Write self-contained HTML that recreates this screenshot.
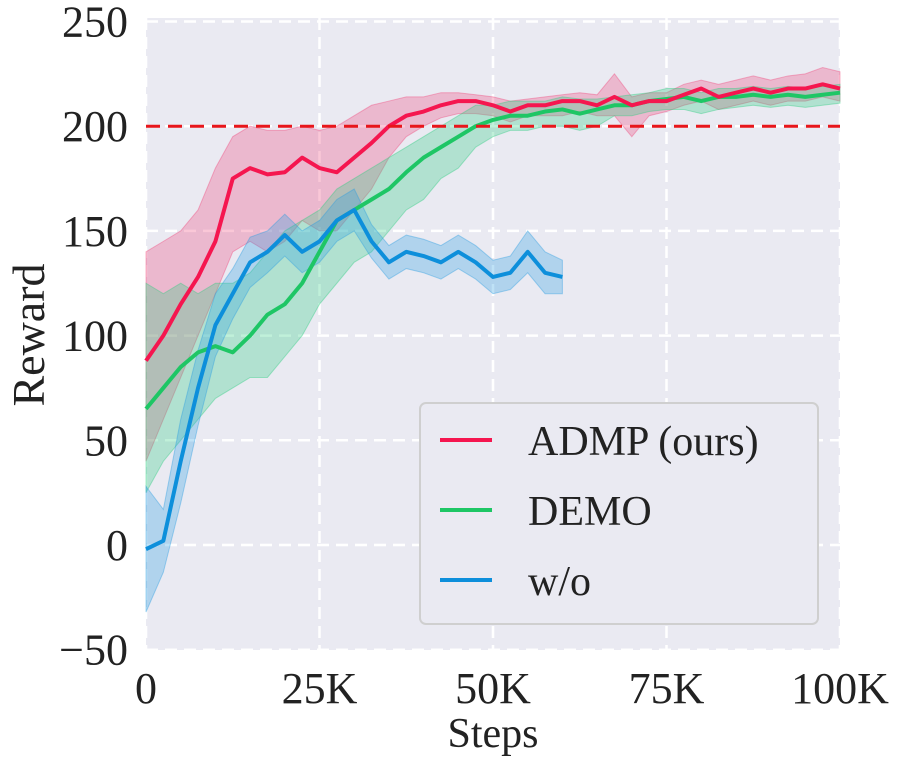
<!DOCTYPE html>
<html><head><meta charset="utf-8"><style>
body{margin:0;background:#fff;}
svg text{font-family:"Liberation Serif",serif;fill:#222;}
</style></head><body>
<svg width="901" height="762" id="chart">
<rect x="146" y="18" width="694" height="632" fill="#eaeaf2"/>
<g id="grid"></g><g id="series"></g><g id="ticks"></g>
<line id="target" stroke="#e8161b" stroke-width="3" stroke-dasharray="14,8"/>
<text x="493" y="747" font-size="42" text-anchor="middle">Steps</text>
<text transform="translate(44,335) rotate(-90)" font-size="46" text-anchor="middle">Reward</text>
<g>
<rect x="420" y="403" width="398" height="221" rx="6" fill="#eaeaf2" stroke="#cfcfcf" stroke-width="2"/>
<line x1="440" y1="440" x2="492" y2="440" stroke="#f5164f" stroke-width="4"/>
<text x="528" y="455" font-size="42">ADMP (ours)</text>
<line x1="440" y1="510" x2="492" y2="510" stroke="#1ec665" stroke-width="4"/>
<text x="528" y="525" font-size="42">DEMO</text>
<line x1="440" y1="580" x2="492" y2="580" stroke="#0d8fdb" stroke-width="4"/>
<text x="528" y="595" font-size="42">w/o</text>
</g>
</svg>
<script>
const xTicks=[0,25,50,75,100];
const xTickLabels=["0","25K","50K","75K","100K"];
const yTicks=[-50,0,50,100,150,200,250];
const targetValue=200;
const admpSteps=[0,2.5,5,7.5,10,12.5,15,17.5,20,22.5,25,27.5,30,32.5,35,37.5,40,42.5,45,47.5,50,52.5,55,57.5,60,62.5,65,67.5,70,72.5,75,77.5,80,82.5,85,87.5,90,92.5,95,97.5,100];
const admpMean=[88,100,115,128,145,175,180,177,178,185,180,178,185,192,200,205,207,210,212,212,210,207,210,210,212,212,210,214,210,212,212,215,218,214,216,218,216,218,218,220,218];
const admpUpper=[140,145,150,160,180,195,200,198,198,200,198,200,205,210,212,214,214,216,216,215,214,212,213,214,215,216,215,225,214,216,216,220,222,220,222,224,222,224,225,228,226];
const admpLower=[40,60,80,100,120,140,145,140,145,155,150,150,160,170,185,195,200,204,206,206,205,202,205,205,205,207,205,205,195,205,207,210,212,208,210,212,210,212,212,214,212];
const demoMean=[65,75,85,92,95,92,100,110,115,125,140,155,160,165,170,178,185,190,195,200,203,205,205,207,208,206,208,210,210,212,213,214,212,214,214,215,214,215,214,215,216];
const demoUpper=[125,120,125,120,125,125,130,140,150,155,160,170,175,180,185,190,195,200,205,210,210,212,212,212,214,213,213,214,215,216,218,218,216,218,218,219,218,219,218,219,220];
const demoLower=[25,40,50,60,70,75,80,80,90,100,115,125,135,140,150,160,165,175,180,190,195,198,198,200,200,198,200,205,205,207,208,208,206,208,209,210,209,210,209,210,211];
const woSteps=[0,2.5,5,7.5,10,12.5,15,17.5,20,22.5,25,27.5,30,32.5,35,37.5,40,42.5,45,47.5,50,52.5,55,57.5,60];
const woMean=[-2,2,40,75,105,120,135,140,148,140,145,155,160,145,135,140,138,135,140,135,128,130,140,130,128];
const woSpread=[30,15,20,18,15,12,12,10,10,10,10,10,10,8,8,8,8,8,8,8,8,8,10,10,8];

const NS="http://www.w3.org/2000/svg";
const X=v=>146+v*6.94, Y=v=>545-v*2.094;
function mk(tag,parent,attrs){const e=document.createElementNS(NS,tag);for(const k in attrs)e.setAttribute(k,attrs[k]);parent.appendChild(e);return e;}
const grid=document.getElementById('grid'),ticks=document.getElementById('ticks'),series=document.getElementById('series');
xTicks.forEach((t,i)=>{
 const l=mk('line',grid,{x1:X(t),x2:X(t),y1:18,y2:650,stroke:'#fff','stroke-width':2.5,'stroke-dasharray':'12,7'});
 
 
 const tx=mk('text',ticks,{x:X(t),y:703,'font-size':44,'text-anchor':'middle'});tx.textContent=xTickLabels[i];
 
 
});
yTicks.forEach(t=>{
 const l=mk('line',grid,{x1:146,x2:840,y1:Y(t),y2:Y(t),stroke:'#fff','stroke-width':2.5,'stroke-dasharray':'12,7'});
 
 
 const tx=mk('text',ticks,{x:128,y:Y(t)+15,'font-size':44,'text-anchor':'end'});tx.textContent=t<0?'\u2212'+(-t):String(t);
 
 
});
function band(xs,lo,hi,color,name){
 let d='M'+xs.map((x,i)=>X(x)+','+Y(hi[i])).join('L');
 for(let i=xs.length-1;i>=0;i--)d+='L'+X(xs[i])+','+Y(lo[i]);
 const p=mk('path',series,{d:d+'Z',fill:color,'fill-opacity':0.3,stroke:color,'stroke-opacity':0.4});
 
 
}
function line(xs,ys,color,name){
 const p=mk('path',series,{d:'M'+xs.map((x,i)=>X(x)+','+Y(ys[i])).join('L'),fill:'none',stroke:color,'stroke-width':4,'stroke-linejoin':'round'});
 
 
}
band(admpSteps,admpLower,admpUpper,'#f0467a','admp-band');
band(admpSteps,demoLower,demoUpper,'#2ecc80','demo-band');
band(woSteps,woMean.map((m,i)=>m-woSpread[i]),woMean.map((m,i)=>m+woSpread[i]),'#2a9ee0','wo-band');
line(admpSteps,demoMean,'#1ec665','demo-line');
line(woSteps,woMean,'#0d8fdb','wo-line');
line(admpSteps,admpMean,'#f5164f','admp-line');
const tl=document.getElementById('target');
tl.setAttribute('x1',146);tl.setAttribute('x2',840);tl.setAttribute('y1',Y(targetValue));tl.setAttribute('y2',Y(targetValue));
document.getElementById('chart').appendChild(tl);
</script>
</body></html>
